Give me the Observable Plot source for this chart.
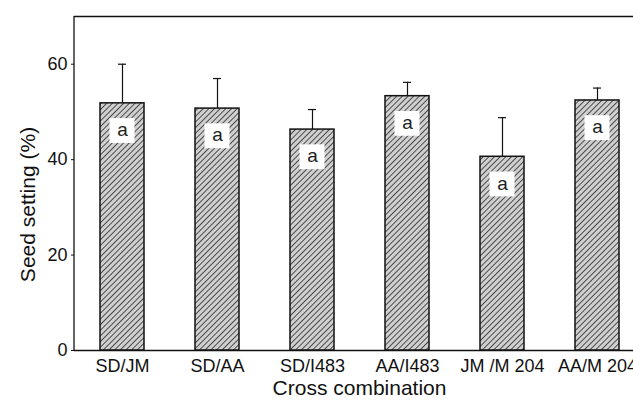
<!DOCTYPE html>
<html>
<head>
<meta charset="utf-8">
<script src="https://cdn.jsdelivr.net/npm/d3@7"></script>
<script src="https://cdn.jsdelivr.net/npm/@observablehq/plot@0.6"></script>
<style>
  html, body { margin: 0; padding: 0; background: #fff; overflow: hidden; }
  svg { font-family: "Liberation Sans", Arial, sans-serif; overflow: hidden !important; }
</style>
</head>
<body>
<div id="chart"></div>
<script>
const categories = ["SD/JM", "SD/AA", "SD/I483", "AA/I483", "JM /M 204", "AA/M 204"];
const means = [51.8, 50.7, 46.3, 53.3, 40.6, 52.4];
const errorTops = [60, 57, 50.5, 56.2, 48.8, 55];
const letters = ["a", "a", "a", "a", "a", "a"];
const yTicks = [0, 20, 40, 60];

const data = categories.map((c, i) => ({
  cat: c, mean: means[i], top: errorTops[i], letter: letters[i],
  boxLo: means[i] - 8.4, boxHi: means[i] - 3.2, letterY: means[i] - 5.6
}));

const defsAndFrame = (index, scales, values, dimensions) => {
  const g = d3.create("svg:g");
  const defs = g.append("defs");
  const p = defs.append("pattern")
    .attr("id", "hatch")
    .attr("patternUnits", "userSpaceOnUse")
    .attr("width", 4).attr("height", 4)
    .attr("patternTransform", "rotate(45)");
  p.append("rect").attr("width", 4).attr("height", 4).attr("fill", "#d0d0d0");
  p.append("line").attr("x1", 0.5).attr("y1", 0).attr("x2", 0.5).attr("y2", 4)
    .attr("stroke", "#4a4a4a").attr("stroke-width", 1);
  g.append("line")
    .attr("x1", dimensions.marginLeft).attr("x2", dimensions.marginLeft)
    .attr("y1", scales.y(0)).attr("y2", scales.y(70))
    .attr("stroke", "#111").attr("stroke-width", 1.3);
  return g.node();
};

const chart = Plot.plot({
  width: 633,
  height: 403,
  marginTop: 16,
  marginBottom: 53,
  marginLeft: 74,
  marginRight: -11,
  style: { fontFamily: "'Liberation Sans', Arial, sans-serif", background: "#fff", overflow: "hidden" },
  x: { domain: categories, paddingInner: 0.54, paddingOuter: 0.27, align: 0.5 },
  y: { domain: [0, 70] },
  marks: [
    defsAndFrame,
    Plot.ruleY([0, 70], { stroke: "#111", strokeWidth: 1.3 }),
    Plot.ruleX(data, { x: "cat", y1: "mean", y2: "top", stroke: "#111", strokeWidth: 1.2 }),
    Plot.tickY(data, { x: "cat", y: "top", stroke: "#111", strokeWidth: 1.2, insetLeft: 18, insetRight: 18 }),
    Plot.barY(data, { x: "cat", y: "mean", fill: "url(#hatch)", stroke: "#111", strokeWidth: 1.5 }),
    Plot.barY(data, { x: "cat", y1: "boxLo", y2: "boxHi", fill: "#fff", insetLeft: 9.5, insetRight: 9.5 }),
    Plot.text(data, { x: "cat", y: "letterY", text: "letter", fontSize: 19, fill: "#222" }),
    Plot.axisY({ ticks: yTicks, tickSize: 3, tickPadding: 4, fontSize: 18, label: null, color: "#111" }),
    Plot.axisX({ tickSize: 0, tickPadding: 9, fontSize: 18, label: null, color: "#111" }),
    Plot.text(["Cross combination"], { frameAnchor: "bottom", dy: 44, fontSize: 21, fill: "#111" }),
    Plot.text(["Seed setting (%)"], { frameAnchor: "left", textAnchor: "middle", rotate: -90, dx: -46, dy: 21, fontSize: 21, fill: "#111" })
  ]
});
document.getElementById("chart").appendChild(chart);
</script>
</body>
</html>
